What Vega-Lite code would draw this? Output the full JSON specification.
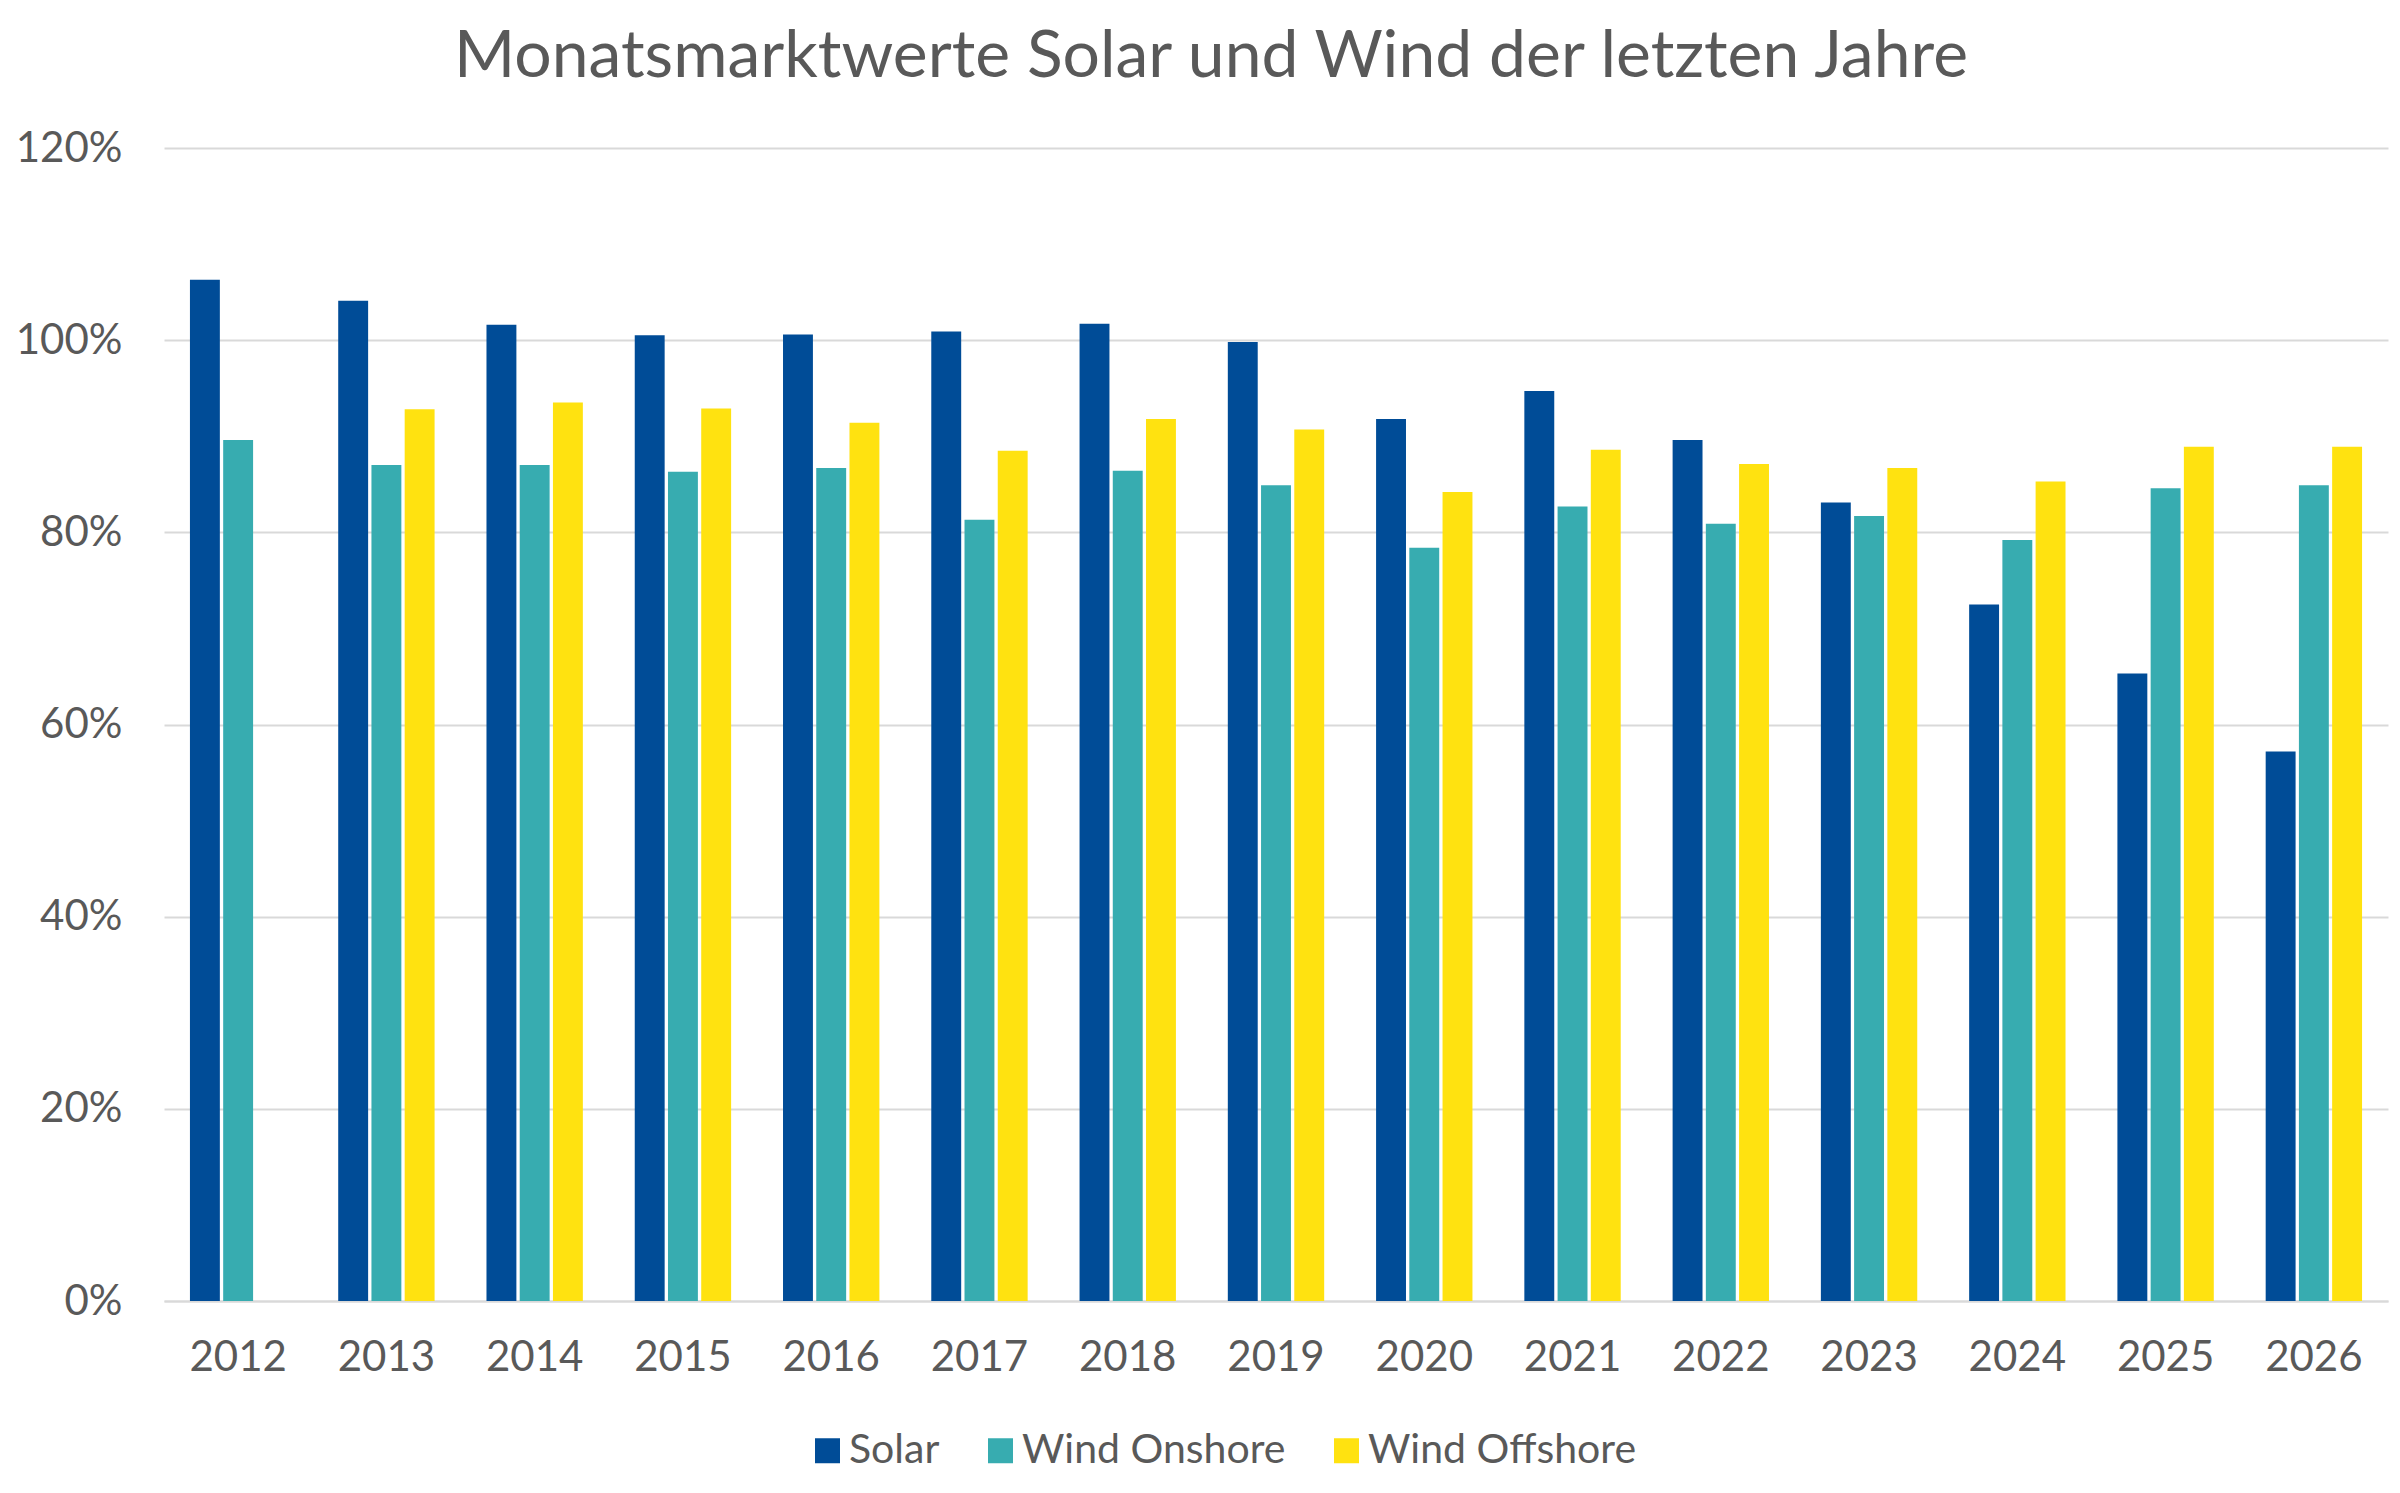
{
  "$schema": "https://vega.github.io/schema/vega-lite/v6.json",
  "width": 2224,
  "height": 1153,
  "autosize": {"type": "none"},
  "padding": {"left": 164, "top": 148, "right": 12, "bottom": 192},
  "background": "white",
  "title": {
    "text": "Monatsmarktwerte Solar und Wind der letzten Jahre",
    "font": "Lato",
    "fontSize": 66,
    "fontWeight": "normal",
    "color": "#595959",
    "anchor": "middle",
    "dx": -65,
    "offset": 36
  },
  "data": {
    "values": [
      {"Jahr": "2012", "Typ": "Solar", "Wert": 1.063},
      {"Jahr": "2012", "Typ": "Wind Onshore", "Wert": 0.896},
      {"Jahr": "2013", "Typ": "Solar", "Wert": 1.041},
      {"Jahr": "2013", "Typ": "Wind Onshore", "Wert": 0.870},
      {"Jahr": "2013", "Typ": "Wind Offshore", "Wert": 0.928},
      {"Jahr": "2014", "Typ": "Solar", "Wert": 1.016},
      {"Jahr": "2014", "Typ": "Wind Onshore", "Wert": 0.870},
      {"Jahr": "2014", "Typ": "Wind Offshore", "Wert": 0.935},
      {"Jahr": "2015", "Typ": "Solar", "Wert": 1.005},
      {"Jahr": "2015", "Typ": "Wind Onshore", "Wert": 0.863},
      {"Jahr": "2015", "Typ": "Wind Offshore", "Wert": 0.929},
      {"Jahr": "2016", "Typ": "Solar", "Wert": 1.006},
      {"Jahr": "2016", "Typ": "Wind Onshore", "Wert": 0.867},
      {"Jahr": "2016", "Typ": "Wind Offshore", "Wert": 0.914},
      {"Jahr": "2017", "Typ": "Solar", "Wert": 1.009},
      {"Jahr": "2017", "Typ": "Wind Onshore", "Wert": 0.813},
      {"Jahr": "2017", "Typ": "Wind Offshore", "Wert": 0.885},
      {"Jahr": "2018", "Typ": "Solar", "Wert": 1.017},
      {"Jahr": "2018", "Typ": "Wind Onshore", "Wert": 0.864},
      {"Jahr": "2018", "Typ": "Wind Offshore", "Wert": 0.918},
      {"Jahr": "2019", "Typ": "Solar", "Wert": 0.998},
      {"Jahr": "2019", "Typ": "Wind Onshore", "Wert": 0.849},
      {"Jahr": "2019", "Typ": "Wind Offshore", "Wert": 0.907},
      {"Jahr": "2020", "Typ": "Solar", "Wert": 0.918},
      {"Jahr": "2020", "Typ": "Wind Onshore", "Wert": 0.784},
      {"Jahr": "2020", "Typ": "Wind Offshore", "Wert": 0.842},
      {"Jahr": "2021", "Typ": "Solar", "Wert": 0.947},
      {"Jahr": "2021", "Typ": "Wind Onshore", "Wert": 0.827},
      {"Jahr": "2021", "Typ": "Wind Offshore", "Wert": 0.886},
      {"Jahr": "2022", "Typ": "Solar", "Wert": 0.896},
      {"Jahr": "2022", "Typ": "Wind Onshore", "Wert": 0.809},
      {"Jahr": "2022", "Typ": "Wind Offshore", "Wert": 0.871},
      {"Jahr": "2023", "Typ": "Solar", "Wert": 0.831},
      {"Jahr": "2023", "Typ": "Wind Onshore", "Wert": 0.817},
      {"Jahr": "2023", "Typ": "Wind Offshore", "Wert": 0.867},
      {"Jahr": "2024", "Typ": "Solar", "Wert": 0.725},
      {"Jahr": "2024", "Typ": "Wind Onshore", "Wert": 0.792},
      {"Jahr": "2024", "Typ": "Wind Offshore", "Wert": 0.853},
      {"Jahr": "2025", "Typ": "Solar", "Wert": 0.653},
      {"Jahr": "2025", "Typ": "Wind Onshore", "Wert": 0.846},
      {"Jahr": "2025", "Typ": "Wind Offshore", "Wert": 0.889},
      {"Jahr": "2026", "Typ": "Solar", "Wert": 0.572},
      {"Jahr": "2026", "Typ": "Wind Onshore", "Wert": 0.849},
      {"Jahr": "2026", "Typ": "Wind Offshore", "Wert": 0.889}
    ]
  },
  "mark": {"type": "bar"},
  "encoding": {
    "x": {
      "field": "Jahr",
      "type": "ordinal",
      "title": null,
      "scale": {"paddingInner": 0.35, "paddingOuter": 0.175},
      "axis": {
        "labelAngle": 0,
        "labelFont": "Lato",
        "labelFontSize": 42,
        "labelColor": "#595959",
        "labelPadding": 36,
        "ticks": false,
        "domainColor": "#D9D9D9",
        "domainWidth": 2,
        "grid": false
      }
    },
    "xOffset": {
      "field": "Typ",
      "type": "nominal",
      "sort": ["Solar", "Wind Onshore", "Wind Offshore"],
      "scale": {"paddingInner": 0.1}
    },
    "y": {
      "field": "Wert",
      "type": "quantitative",
      "title": null,
      "scale": {"domain": [0, 1.2], "nice": false},
      "axis": {
        "values": [0, 0.2, 0.4, 0.6, 0.8, 1.0, 1.2],
        "format": ".0%",
        "labelFont": "Lato",
        "labelFontSize": 42,
        "labelColor": "#595959",
        "labelPadding": 42,
        "ticks": false,
        "domain": false,
        "gridColor": "#D9D9D9",
        "gridWidth": 2
      }
    },
    "color": {
      "field": "Typ",
      "type": "nominal",
      "sort": ["Solar", "Wind Onshore", "Wind Offshore"],
      "scale": {
        "domain": ["Solar", "Wind Onshore", "Wind Offshore"],
        "range": ["#004C97", "#37ACB0", "#FFE210"]
      },
      "legend": {
        "title": null,
        "orient": "none",
        "direction": "horizontal",
        "legendX": 643,
        "legendY": 1282,
        "symbolType": "square",
        "symbolSize": 625,
        "symbolStrokeWidth": 0,
        "symbolOpacity": 1,
        "labelFont": "Lato",
        "labelFontSize": 41,
        "labelLimit": 0,
        "labelColor": "#595959",
        "labelOffset": 1,
        "columnPadding": 40
      }
    }
  },
  "config": {
    "view": {"stroke": null}
  }
}
